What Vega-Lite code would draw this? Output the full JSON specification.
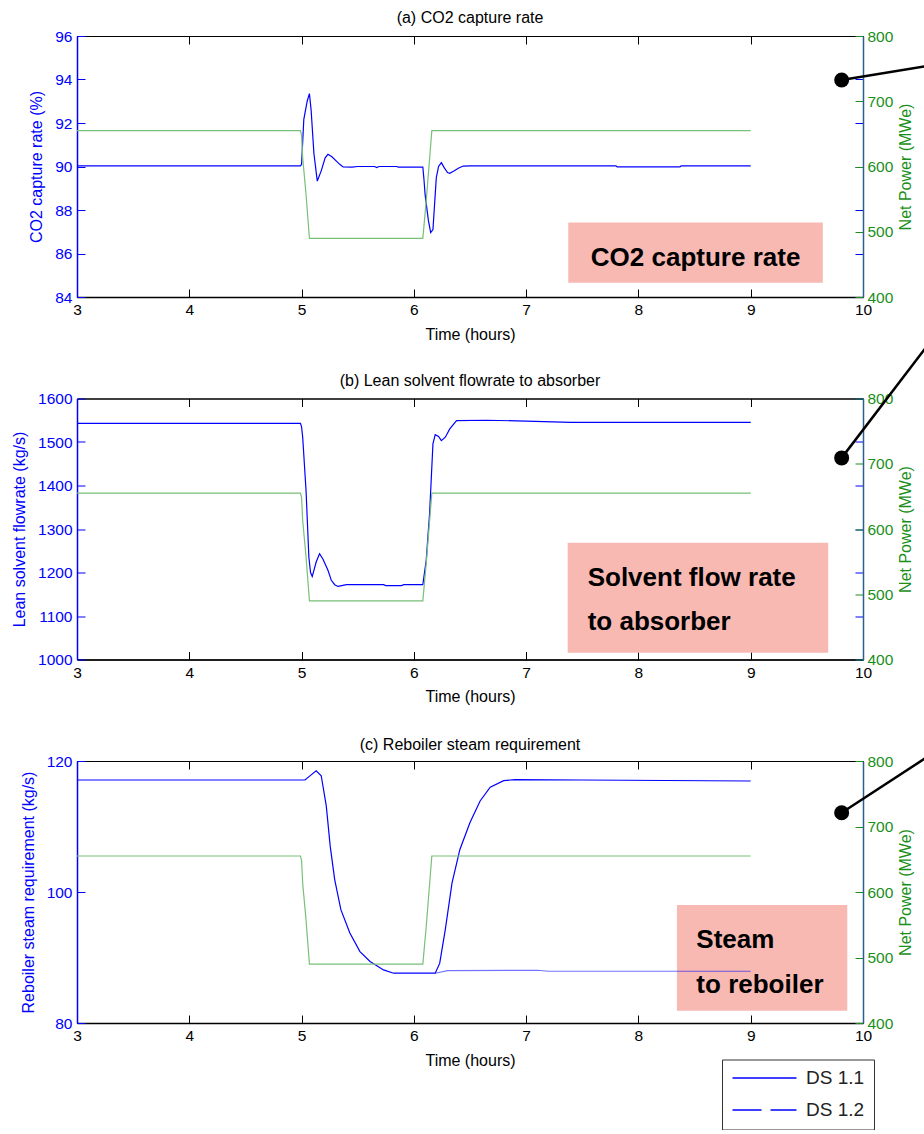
{
  "$schema": "https://vega.github.io/schema/vega-lite/v6.json",
  "padding": {"left": 11, "top": 9, "right": 0, "bottom": 0},
  "background": "white",
  "spacing": 101.5,
  "bounds": "flush",
  "datasets": {
    "co2": [
      {"t": 3.0, "v": 90.03}, {"t": 4.99, "v": 90.03}, {"t": 5.0, "v": 90.1}, {"t": 5.02, "v": 92.17},
      {"t": 5.05, "v": 93.0}, {"t": 5.07, "v": 93.35}, {"t": 5.085, "v": 92.6}, {"t": 5.11, "v": 90.6},
      {"t": 5.14, "v": 89.33}, {"t": 5.175, "v": 89.8}, {"t": 5.21, "v": 90.4}, {"t": 5.235, "v": 90.56},
      {"t": 5.27, "v": 90.45}, {"t": 5.31, "v": 90.25}, {"t": 5.34, "v": 90.1}, {"t": 5.37, "v": 89.98},
      {"t": 5.45, "v": 89.97}, {"t": 5.5, "v": 90.0}, {"t": 5.65, "v": 90.0}, {"t": 5.67, "v": 89.95},
      {"t": 5.69, "v": 90.0}, {"t": 5.85, "v": 90.0}, {"t": 5.86, "v": 89.97}, {"t": 6.08, "v": 89.97},
      {"t": 6.09, "v": 89.4}, {"t": 6.1, "v": 88.72}, {"t": 6.13, "v": 87.5}, {"t": 6.15, "v": 86.96},
      {"t": 6.17, "v": 87.1}, {"t": 6.185, "v": 88.3}, {"t": 6.2, "v": 89.49}, {"t": 6.22, "v": 90.0},
      {"t": 6.245, "v": 90.18}, {"t": 6.27, "v": 89.95}, {"t": 6.3, "v": 89.72}, {"t": 6.32, "v": 89.69},
      {"t": 6.36, "v": 89.8}, {"t": 6.4, "v": 89.93}, {"t": 6.44, "v": 90.02}, {"t": 6.5, "v": 90.03},
      {"t": 7.8, "v": 90.03}, {"t": 7.81, "v": 89.98}, {"t": 8.37, "v": 89.98}, {"t": 8.38, "v": 90.03},
      {"t": 9.0, "v": 90.03}
    ],
    "power": [
      {"t": 3.0, "p": 655}, {"t": 4.99, "p": 655}, {"t": 5.0, "p": 648}, {"t": 5.01, "p": 613},
      {"t": 5.04, "p": 557}, {"t": 5.07, "p": 490}, {"t": 6.08, "p": 490}, {"t": 6.11, "p": 547},
      {"t": 6.16, "p": 655}, {"t": 9.0, "p": 655}
    ],
    "lean": [
      {"t": 3.0, "v": 1543}, {"t": 4.99, "v": 1543}, {"t": 5.0, "v": 1535}, {"t": 5.01, "v": 1511},
      {"t": 5.04, "v": 1388}, {"t": 5.065, "v": 1235}, {"t": 5.08, "v": 1200}, {"t": 5.095, "v": 1191},
      {"t": 5.11, "v": 1205}, {"t": 5.13, "v": 1224}, {"t": 5.16, "v": 1243}, {"t": 5.19, "v": 1231},
      {"t": 5.235, "v": 1205}, {"t": 5.265, "v": 1182}, {"t": 5.295, "v": 1172}, {"t": 5.325, "v": 1168},
      {"t": 5.4, "v": 1172}, {"t": 5.73, "v": 1172}, {"t": 5.75, "v": 1170}, {"t": 5.89, "v": 1170},
      {"t": 5.91, "v": 1172}, {"t": 6.08, "v": 1172}, {"t": 6.11, "v": 1228}, {"t": 6.14, "v": 1335},
      {"t": 6.17, "v": 1496}, {"t": 6.19, "v": 1517}, {"t": 6.22, "v": 1513}, {"t": 6.245, "v": 1503},
      {"t": 6.28, "v": 1511}, {"t": 6.32, "v": 1530}, {"t": 6.38, "v": 1549}, {"t": 6.65, "v": 1550},
      {"t": 7.0, "v": 1548}, {"t": 7.4, "v": 1545}, {"t": 9.0, "v": 1545}
    ],
    "steam11": [
      {"t": 3.0, "v": 117.1}, {"t": 5.03, "v": 117.1}, {"t": 5.08, "v": 117.8}, {"t": 5.13, "v": 118.5},
      {"t": 5.175, "v": 117.75}, {"t": 5.22, "v": 113.15}, {"t": 5.255, "v": 107.0}, {"t": 5.295, "v": 101.9},
      {"t": 5.35, "v": 97.3}, {"t": 5.43, "v": 93.75}, {"t": 5.52, "v": 90.9}, {"t": 5.61, "v": 89.4},
      {"t": 5.73, "v": 88.1}, {"t": 5.82, "v": 87.6}, {"t": 6.19, "v": 87.6}, {"t": 6.23, "v": 89.1},
      {"t": 6.28, "v": 94.25}, {"t": 6.34, "v": 101.4}, {"t": 6.41, "v": 106.5}, {"t": 6.5, "v": 110.6},
      {"t": 6.59, "v": 113.9}, {"t": 6.68, "v": 116.0}, {"t": 6.8, "v": 117.0}, {"t": 6.9, "v": 117.15},
      {"t": 7.5, "v": 117.1}, {"t": 9.0, "v": 116.95}
    ],
    "steam12": [
      {"t": 6.19, "v": 87.6}, {"t": 6.3, "v": 88.0}, {"t": 7.1, "v": 88.05}, {"t": 7.2, "v": 87.9},
      {"t": 9.0, "v": 87.9}
    ]
  },
  "vconcat": [
    {
      "width": 786,
      "height": 261,
      "title": {"text": "(a) CO2 capture rate", "offset": 3},
      "layer": [
        {
          "data": {"values": [{"x1": 7.375, "x2": 9.642, "y1": 84.66, "y2": 87.42}]},
          "mark": {"type": "rect", "color": "#f9b9b3"},
          "encoding": {
            "x": {"field": "x1", "type": "quantitative", "scale": {"domain": [3, 10], "nice": false}, "axis": null},
            "x2": {"field": "x2"},
            "y": {"field": "y1", "type": "quantitative", "scale": {"domain": [84, 96], "nice": false, "zero": false}, "axis": null},
            "y2": {"field": "y2"}
          }
        },
        {
          "data": {"values": [{"t": 8.509, "v": 85.43, "label": "CO2 capture rate"}]},
          "mark": {"type": "text", "font": "Liberation Sans", "fontSize": 26, "fontWeight": "bold", "align": "center", "baseline": "alphabetic", "color": "black"},
          "encoding": {
            "x": {"field": "t", "type": "quantitative", "scale": {"domain": [3, 10], "nice": false},
              "axis": {"orient": "top", "values": [3, 4, 5, 6, 7, 8, 9, 10], "labels": false, "title": null, "tickSize": -8, "tickColor": "black", "domainColor": "black", "domainWidth": 1}},
            "y": {"field": "v", "type": "quantitative", "scale": {"domain": [84, 96], "nice": false, "zero": false}, "axis": null},
            "text": {"field": "label"}
          }
        },
        {
          "data": {"name": "co2"},
          "mark": {"type": "line", "color": "#0000ff", "strokeWidth": 1.2},
          "encoding": {
            "x": {"field": "t", "type": "quantitative", "scale": {"domain": [3, 10], "nice": false},
              "axis": {"orient": "bottom", "values": [3, 4, 5, 6, 7, 8, 9, 10], "format": "d", "title": "Time (hours)", "tickSize": -8, "labelPadding": 13.5, "labelFontSize": 15.5, "labelColor": "black", "titleFontSize": 16, "titleColor": "black", "domainColor": "black", "domainWidth": 1.5, "tickColor": "black", "titlePadding": 8, "labelFlush": false}},
            "y": {"field": "v", "type": "quantitative", "scale": {"domain": [84, 96], "nice": false, "zero": false},
              "axis": {"orient": "left", "values": [84, 86, 88, 90, 92, 94, 96], "title": "CO2 capture rate (%)", "titleColor": "#0000ff", "labelColor": "#0000ff", "domainColor": "#0000ff", "tickColor": "#0000ff", "tickSize": -8, "labelPadding": 13, "labelFontSize": 15.5, "titleFontSize": 16, "domainWidth": 1.5, "titlePadding": 10}}
          }
        },
        {
          "data": {"values": [{"v": 90}]},
          "mark": {"type": "tick", "opacity": 0},
          "encoding": {
            "y": {"field": "v", "type": "quantitative", "scale": {"domain": [84, 96], "nice": false, "zero": false},
              "axis": {"orient": "right", "values": [84, 86, 88, 90, 92, 94, 96], "labels": false, "title": null, "domain": false, "tickSize": -8, "tickColor": "#0000ff"}}
          }
        },
        {
          "data": {"name": "power"},
          "mark": {"type": "line", "color": "#77c077", "strokeWidth": 1.2},
          "encoding": {
            "x": {"field": "t", "type": "quantitative", "scale": {"domain": [3, 10], "nice": false}, "axis": null},
            "y": {"field": "p", "type": "quantitative", "scale": {"domain": [400, 800], "nice": false, "zero": false},
              "axis": {"orient": "right", "values": [400, 500, 600, 700, 800], "title": "Net Power (MWe)", "titleColor": "#1a8f1a", "labelColor": "#1a8f1a", "tickColor": "#1a8f1a", "domainColor": "#2a5f8f", "tickSize": -8, "labelPadding": 12, "labelFontSize": 15.5, "titleFontSize": 16, "titleAngle": 270, "domainWidth": 1.5, "titlePadding": 21}}
          }
        },
        {
          "data": {"values": [{"t": 9.81, "p": 732.6}, {"t": 10.55, "p": 753.3}]},
          "mark": {"type": "line", "color": "black", "strokeWidth": 2.5, "clip": false},
          "encoding": {
            "x": {"field": "t", "type": "quantitative", "scale": {"domain": [3, 10], "nice": false}, "axis": null},
            "y": {"field": "p", "type": "quantitative", "scale": {"domain": [400, 800], "nice": false, "zero": false}, "axis": null}
          }
        },
        {
          "data": {"values": [{"t": 9.81, "p": 732.6}]},
          "mark": {"type": "point", "filled": true, "color": "black", "size": 225, "opacity": 1},
          "encoding": {
            "x": {"field": "t", "type": "quantitative", "scale": {"domain": [3, 10], "nice": false}, "axis": null},
            "y": {"field": "p", "type": "quantitative", "scale": {"domain": [400, 800], "nice": false, "zero": false}, "axis": null}
          }
        }
      ],
      "resolve": {"scale": {"y": "independent"}, "axis": {"x": "independent"}}
    },
    {
      "width": 786,
      "height": 261,
      "title": {"text": "(b) Lean solvent flowrate to absorber", "offset": -45},
      "layer": [
        {
          "data": {"values": [{"x1": 7.37, "x2": 9.69, "y1": 1015.4, "y2": 1268.3}]},
          "mark": {"type": "rect", "color": "#f9b9b3"},
          "encoding": {
            "x": {"field": "x1", "type": "quantitative", "scale": {"domain": [3, 10], "nice": false}, "axis": null},
            "x2": {"field": "x2"},
            "y": {"field": "y1", "type": "quantitative", "scale": {"domain": [1000, 1600], "nice": false, "zero": false}, "axis": null},
            "y2": {"field": "y2"}
          }
        },
        {
          "data": {"values": [{"t": 7.548, "v": 1168.5, "label": "Solvent flow rate"}, {"t": 7.548, "v": 1067.4, "label": "to absorber"}]},
          "mark": {"type": "text", "font": "Liberation Sans", "fontSize": 26, "fontWeight": "bold", "align": "left", "baseline": "alphabetic", "color": "black"},
          "encoding": {
            "x": {"field": "t", "type": "quantitative", "scale": {"domain": [3, 10], "nice": false},
              "axis": {"orient": "top", "values": [3, 4, 5, 6, 7, 8, 9, 10], "labels": false, "title": null, "tickSize": -8, "tickColor": "black", "domainColor": "black", "domainWidth": 1}},
            "y": {"field": "v", "type": "quantitative", "scale": {"domain": [1000, 1600], "nice": false, "zero": false}, "axis": null},
            "text": {"field": "label"}
          }
        },
        {
          "data": {"name": "lean"},
          "mark": {"type": "line", "color": "#0000ff", "strokeWidth": 1.2},
          "encoding": {
            "x": {"field": "t", "type": "quantitative", "scale": {"domain": [3, 10], "nice": false},
              "axis": {"orient": "bottom", "values": [3, 4, 5, 6, 7, 8, 9, 10], "format": "d", "title": "Time (hours)", "tickSize": -8, "labelPadding": 13.5, "labelFontSize": 15.5, "labelColor": "black", "titleFontSize": 16, "titleColor": "black", "domainColor": "black", "domainWidth": 1.5, "tickColor": "black", "titlePadding": 8, "labelFlush": false}},
            "y": {"field": "v", "type": "quantitative", "scale": {"domain": [1000, 1600], "nice": false, "zero": false},
              "axis": {"orient": "left", "values": [1000, 1100, 1200, 1300, 1400, 1500, 1600], "format": "d", "title": "Lean solvent flowrate (kg/s)", "titleColor": "#0000ff", "labelColor": "#0000ff", "domainColor": "#0000ff", "tickColor": "#0000ff", "tickSize": -8, "labelPadding": 13, "labelFontSize": 15.5, "titleFontSize": 16, "domainWidth": 1.5, "titlePadding": 10}}
          }
        },
        {
          "data": {"values": [{"v": 1300}]},
          "mark": {"type": "tick", "opacity": 0},
          "encoding": {
            "y": {"field": "v", "type": "quantitative", "scale": {"domain": [1000, 1600], "nice": false, "zero": false},
              "axis": {"orient": "right", "values": [1000, 1100, 1200, 1300, 1400, 1500, 1600], "labels": false, "title": null, "domain": false, "tickSize": -8, "tickColor": "#0000ff"}}
          }
        },
        {
          "data": {"name": "power"},
          "mark": {"type": "line", "color": "#77c077", "strokeWidth": 1.2},
          "encoding": {
            "x": {"field": "t", "type": "quantitative", "scale": {"domain": [3, 10], "nice": false}, "axis": null},
            "y": {"field": "p", "type": "quantitative", "scale": {"domain": [400, 800], "nice": false, "zero": false},
              "axis": {"orient": "right", "values": [400, 500, 600, 700, 800], "title": "Net Power (MWe)", "titleColor": "#1a8f1a", "labelColor": "#1a8f1a", "tickColor": "#1a8f1a", "domainColor": "#2a5f8f", "tickSize": -8, "labelPadding": 12, "labelFontSize": 15.5, "titleFontSize": 16, "titleAngle": 270, "domainWidth": 1.5, "titlePadding": 21}}
          }
        },
        {
          "data": {"values": [{"t": 9.81, "p": 709}, {"t": 10.55, "p": 876}]},
          "mark": {"type": "line", "color": "black", "strokeWidth": 2.5, "clip": false},
          "encoding": {
            "x": {"field": "t", "type": "quantitative", "scale": {"domain": [3, 10], "nice": false}, "axis": null},
            "y": {"field": "p", "type": "quantitative", "scale": {"domain": [400, 800], "nice": false, "zero": false}, "axis": null}
          }
        },
        {
          "data": {"values": [{"t": 9.81, "p": 709}]},
          "mark": {"type": "point", "filled": true, "color": "black", "size": 225, "opacity": 1},
          "encoding": {
            "x": {"field": "t", "type": "quantitative", "scale": {"domain": [3, 10], "nice": false}, "axis": null},
            "y": {"field": "p", "type": "quantitative", "scale": {"domain": [400, 800], "nice": false, "zero": false}, "axis": null}
          }
        }
      ],
      "resolve": {"scale": {"y": "independent"}, "axis": {"x": "independent"}}
    },
    {
      "width": 786,
      "height": 262,
      "title": {"text": "(c) Reboiler steam requirement", "offset": 1},
      "layer": [
        {
          "data": {"values": [{"x1": 8.343, "x2": 9.86, "y1": 81.88, "y2": 98.02}]},
          "mark": {"type": "rect", "color": "#f9b9b3"},
          "encoding": {
            "x": {"field": "x1", "type": "quantitative", "scale": {"domain": [3, 10], "nice": false}, "axis": null},
            "x2": {"field": "x2"},
            "y": {"field": "y1", "type": "quantitative", "scale": {"domain": [80, 120], "nice": false, "zero": false}, "axis": null},
            "y2": {"field": "y2"}
          }
        },
        {
          "data": {"values": [{"t": 8.516, "v": 91.4, "label": "Steam"}, {"t": 8.516, "v": 84.53, "label": "to reboiler"}]},
          "mark": {"type": "text", "font": "Liberation Sans", "fontSize": 26, "fontWeight": "bold", "align": "left", "baseline": "alphabetic", "color": "black"},
          "encoding": {
            "x": {"field": "t", "type": "quantitative", "scale": {"domain": [3, 10], "nice": false},
              "axis": {"orient": "top", "values": [3, 4, 5, 6, 7, 8, 9, 10], "labels": false, "title": null, "tickSize": -8, "tickColor": "black", "domainColor": "black", "domainWidth": 1}},
            "y": {"field": "v", "type": "quantitative", "scale": {"domain": [80, 120], "nice": false, "zero": false}, "axis": null},
            "text": {"field": "label"}
          }
        },
        {
          "data": {"name": "steam12"},
          "mark": {"type": "line", "color": "#0000ff", "strokeWidth": 1.2, "opacity": 0.55},
          "encoding": {
            "x": {"field": "t", "type": "quantitative", "scale": {"domain": [3, 10], "nice": false}, "axis": null},
            "y": {"field": "v", "type": "quantitative", "scale": {"domain": [80, 120], "nice": false, "zero": false}, "axis": null}
          }
        },
        {
          "data": {"name": "steam11"},
          "mark": {"type": "line", "color": "#0000ff", "strokeWidth": 1.2},
          "encoding": {
            "x": {"field": "t", "type": "quantitative", "scale": {"domain": [3, 10], "nice": false},
              "axis": {"orient": "bottom", "values": [3, 4, 5, 6, 7, 8, 9, 10], "format": "d", "title": "Time (hours)", "tickSize": -8, "labelPadding": 13.5, "labelFontSize": 15.5, "labelColor": "black", "titleFontSize": 16, "titleColor": "black", "domainColor": "black", "domainWidth": 1.5, "tickColor": "black", "titlePadding": 8, "labelFlush": false}},
            "y": {"field": "v", "type": "quantitative", "scale": {"domain": [80, 120], "nice": false, "zero": false},
              "axis": {"orient": "left", "values": [80, 100, 120], "title": "Reboiler steam requirement (kg/s)", "titleColor": "#0000ff", "labelColor": "#0000ff", "domainColor": "#0000ff", "tickColor": "#0000ff", "tickSize": -8, "labelPadding": 13, "labelFontSize": 15.5, "titleFontSize": 16, "domainWidth": 1.5, "titlePadding": 10}}
          }
        },
        {
          "data": {"values": [{"series": "DS 1.1", "t": 20, "v": 100}, {"series": "DS 1.2", "t": 20, "v": 100}]},
          "mark": {"type": "line", "color": "#0000ff", "clip": true},
          "encoding": {
            "x": {"field": "t", "type": "quantitative", "scale": {"domain": [3, 10], "nice": false}, "axis": null},
            "y": {"field": "v", "type": "quantitative", "scale": {"domain": [80, 120], "nice": false, "zero": false}, "axis": null},
            "strokeDash": {"field": "series", "type": "nominal",
              "scale": {"domain": ["DS 1.1", "DS 1.2"], "range": [[1, 0], [29, 9]]},
              "legend": {"title": null, "orient": "none", "legendX": 645, "legendY": 1023.5, "symbolType": "M-1,0H7", "symbolSize": 256, "symbolStrokeColor": "#0000ff", "symbolStrokeWidth": 1.5, "labelFont": "Liberation Sans", "labelFontSize": 19, "labelColor": "#222222", "labelOffset": 56, "padding": 9, "rowPadding": 12, "strokeColor": "#333333", "fillColor": "white"}}
          }
        },
        {
          "data": {"name": "power"},
          "mark": {"type": "line", "color": "#77c077", "strokeWidth": 1.2},
          "encoding": {
            "x": {"field": "t", "type": "quantitative", "scale": {"domain": [3, 10], "nice": false}, "axis": null},
            "y": {"field": "p", "type": "quantitative", "scale": {"domain": [400, 800], "nice": false, "zero": false},
              "axis": {"orient": "right", "values": [400, 500, 600, 700, 800], "title": "Net Power (MWe)", "titleColor": "#1a8f1a", "labelColor": "#1a8f1a", "tickColor": "#1a8f1a", "domainColor": "#2a5f8f", "tickSize": -8, "labelPadding": 12, "labelFontSize": 15.5, "titleFontSize": 16, "titleAngle": 270, "domainWidth": 1.5, "titlePadding": 21}}
          }
        },
        {
          "data": {"values": [{"t": 9.81, "p": 721}, {"t": 10.55, "p": 803.7}]},
          "mark": {"type": "line", "color": "black", "strokeWidth": 2.5, "clip": false},
          "encoding": {
            "x": {"field": "t", "type": "quantitative", "scale": {"domain": [3, 10], "nice": false}, "axis": null},
            "y": {"field": "p", "type": "quantitative", "scale": {"domain": [400, 800], "nice": false, "zero": false}, "axis": null}
          }
        },
        {
          "data": {"values": [{"t": 9.81, "p": 721}]},
          "mark": {"type": "point", "filled": true, "color": "black", "size": 225, "opacity": 1},
          "encoding": {
            "x": {"field": "t", "type": "quantitative", "scale": {"domain": [3, 10], "nice": false}, "axis": null},
            "y": {"field": "p", "type": "quantitative", "scale": {"domain": [400, 800], "nice": false, "zero": false}, "axis": null}
          }
        }
      ],
      "resolve": {"scale": {"y": "independent"}, "axis": {"x": "independent"}}
    }
  ],
  "config": {
    "font": "Liberation Sans",
    "view": {"stroke": "black", "strokeWidth": 1},
    "axis": {"grid": false, "labelFont": "Liberation Sans", "titleFont": "Liberation Sans", "titleFontWeight": "normal"},
    "title": {"font": "Liberation Sans", "fontSize": 16, "fontWeight": "normal", "color": "black"}
  }
}
